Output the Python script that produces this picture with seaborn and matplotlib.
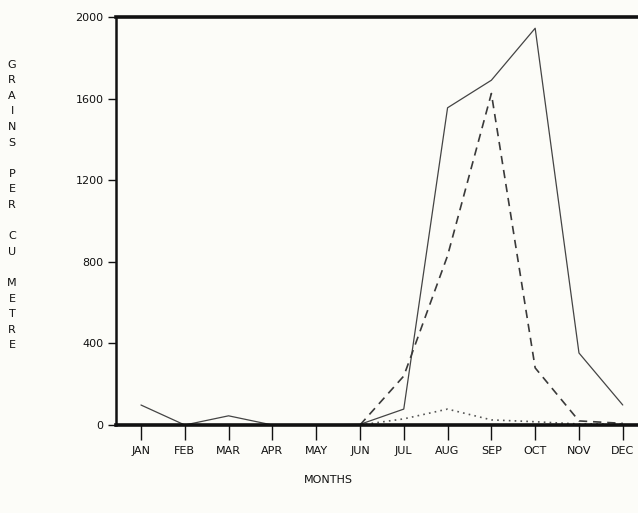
import matplotlib
matplotlib.use('Agg')
import matplotlib.pyplot as plt
import numpy as np
import pandas as pd
import seaborn as sns

# Monthly pollen counts
months = ['JAN', 'FEB', 'MAR', 'APR', 'MAY', 'JUN', 'JUL', 'AUG', 'SEP', 'OCT', 'NOV', 'DEC']
solid = [98, 0, 45, 0, 0, 3, 78, 1555, 1690, 1945, 353, 98]
dashed = [np.nan, np.nan, np.nan, np.nan, np.nan, 0, 240, 830, 1625, 280, 20, 8]
dotted = [np.nan, np.nan, np.nan, np.nan, np.nan, 0, 30, 78, 25, 16, 5, 5]
y_ticks = [0, 400, 800, 1200, 1600, 2000]

df = pd.DataFrame({'month': months * 3,
                   'pos': list(range(12)) * 3,
                   'value': solid + dashed + dotted,
                   'series': ['a'] * 12 + ['b'] * 12 + ['c'] * 12}).dropna()

sns.set_style('white')
plt.rcParams['font.family'] = ['DejaVu Sans']
bg = '#fcfcf8'

fig = plt.figure(figsize=(6.38, 5.13), dpi=100, facecolor=bg)
ax = fig.add_axes([116 / 638, 88 / 513, 544 / 638, 408 / 513], facecolor=bg)

styles = {'a': ('-', 0.9, '#444444'),
          'b': ((0, (5, 3.5)), 1.2, '#3a3a3a'),
          'c': ((0, (1, 2.5)), 1.2, '#555555')}
for key, (ls, lw, col) in styles.items():
    sub = df[df['series'] == key]
    sns.lineplot(data=sub, x='pos', y='value', ax=ax, color=col, linestyle=ls,
                 linewidth=lw, legend=False, errorbar=None)

ax.set_xlim(-0.57, 11.85)
ax.set_ylim(0, 2000)
ax.set_xticks(range(12))
ax.set_xticklabels(months)
ax.set_yticks(y_ticks)
ax.set_yticklabels([str(v) for v in y_ticks])
ax.set_xlabel('')
ax.set_ylabel('')

for side, w in [('left', 1.8), ('top', 2.6), ('bottom', 2.6), ('right', 1.8)]:
    ax.spines[side].set_linewidth(w)
    ax.spines[side].set_color('#111111')

ax.tick_params(axis='x', direction='out', length=11, width=1.0, pad=4,
               labelsize=8, colors='#111111', bottom=True)
ax.tick_params(axis='y', direction='out', length=6, width=1.0, pad=3,
               labelsize=8, colors='#111111', left=True)

ylab = '\n'.join(list('GRAINS') + [''] + list('PER') + [''] + list('CU') + [''] + list('METRE'))
fig.text(12 / 638, 1 - 205 / 513, ylab, ha='center', va='center', fontsize=8,
         linespacing=1.7, color='#111111')
fig.text(328 / 638, 1 - 480 / 513, 'MONTHS', ha='center', va='center', fontsize=8,
         color='#111111')

fig.savefig('out.png', dpi=100, facecolor=bg)
